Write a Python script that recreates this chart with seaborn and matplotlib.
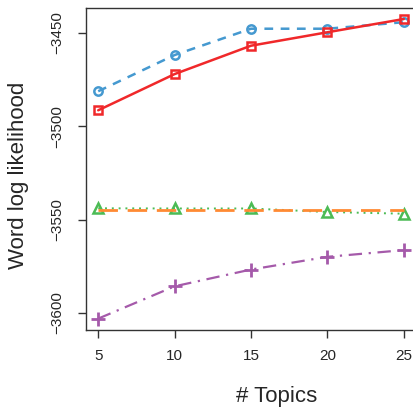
import numpy as np
import matplotlib
matplotlib.use('Agg')
import matplotlib.pyplot as plt
import pandas as pd
import seaborn as sns

topics = [5, 10, 15, 20, 25]
red_sq = [-3491.4, -3472.0, -3456.8, -3449.6, -3442.5]
blue_circ = [-3481.2, -3461.8, -3447.7, -3447.7, -3444.2]
green_tri = [-3543.9, -3544.0, -3544.0, -3545.9, -3546.8]
orange_flat = [-3545.0, -3545.0, -3545.0, -3545.0, -3545.0]
purple_plus = [-3603.0, -3585.7, -3576.7, -3569.9, -3566.3]
yticks = [-3600, -3550, -3500, -3450]

sns.set_style('ticks')
plt.rcParams['font.family'] = ['Liberation Sans', 'DejaVu Sans']

fig = plt.figure(figsize=(4.14, 4.09), dpi=100)
ax = fig.add_axes([86/414, 1-330/409, 330/414, 322/409])

series = [
    (green_tri, '#4CBB55', '^', (1, 2.5), 1.4),
    (orange_flat, '#FF8A33', None, (7, 3.5), 2.0),
    (blue_circ, '#4599D0', 'o', (3.5, 3), 1.8),
    (red_sq, '#F0282A', 's', None, 1.8),
    (purple_plus, '#A55AAA', 'P', (6, 3, 1, 3), 1.6),
]
for vals, col, mk, dash, lw in series:
    df = pd.DataFrame({'topics': topics, 'll': vals})
    kw = dict(color=col, lw=lw, legend=False, ax=ax)
    if mk == 'P':
        kw.update(marker='+', markersize=10, markeredgewidth=2, markeredgecolor=col)
    elif mk is not None:
        kw.update(marker=mk, markersize=6 if mk != '^' else 7,
                  markerfacecolor='none', markeredgecolor=col, markeredgewidth=1.8)
    line = sns.lineplot(data=df, x='topics', y='ll', **kw).lines[-1]
    if dash is not None:
        line.set_dashes(dash)

ax.set_xlim(4.2, 25.8)
ax.set_ylim(-3609.1, -3436.6)
ax.set_xticks(topics)
ax.set_yticks(yticks)
ax.set_yticklabels([str(t).replace('-', '\u2212') for t in yticks], rotation=90, va='center')
ax.tick_params(axis='both', labelsize=11, length=6, width=1, color='#333333')
ax.tick_params(axis='x', pad=8)
ax.tick_params(axis='y', pad=10)
for s in ax.spines.values():
    s.set_visible(True)
    s.set_linewidth(1)
    s.set_color('#333333')

ax.set_xlabel('# Topics', fontsize=16)
ax.xaxis.set_label_coords(0.579, -0.208)
ax.xaxis.label.set_va('center')
ax.set_ylabel('Word log likelihood', fontsize=16)
ax.yaxis.set_label_coords(-0.206, 0.48)
ax.yaxis.label.set_va('center')

plt.savefig('out.png', dpi=100)
